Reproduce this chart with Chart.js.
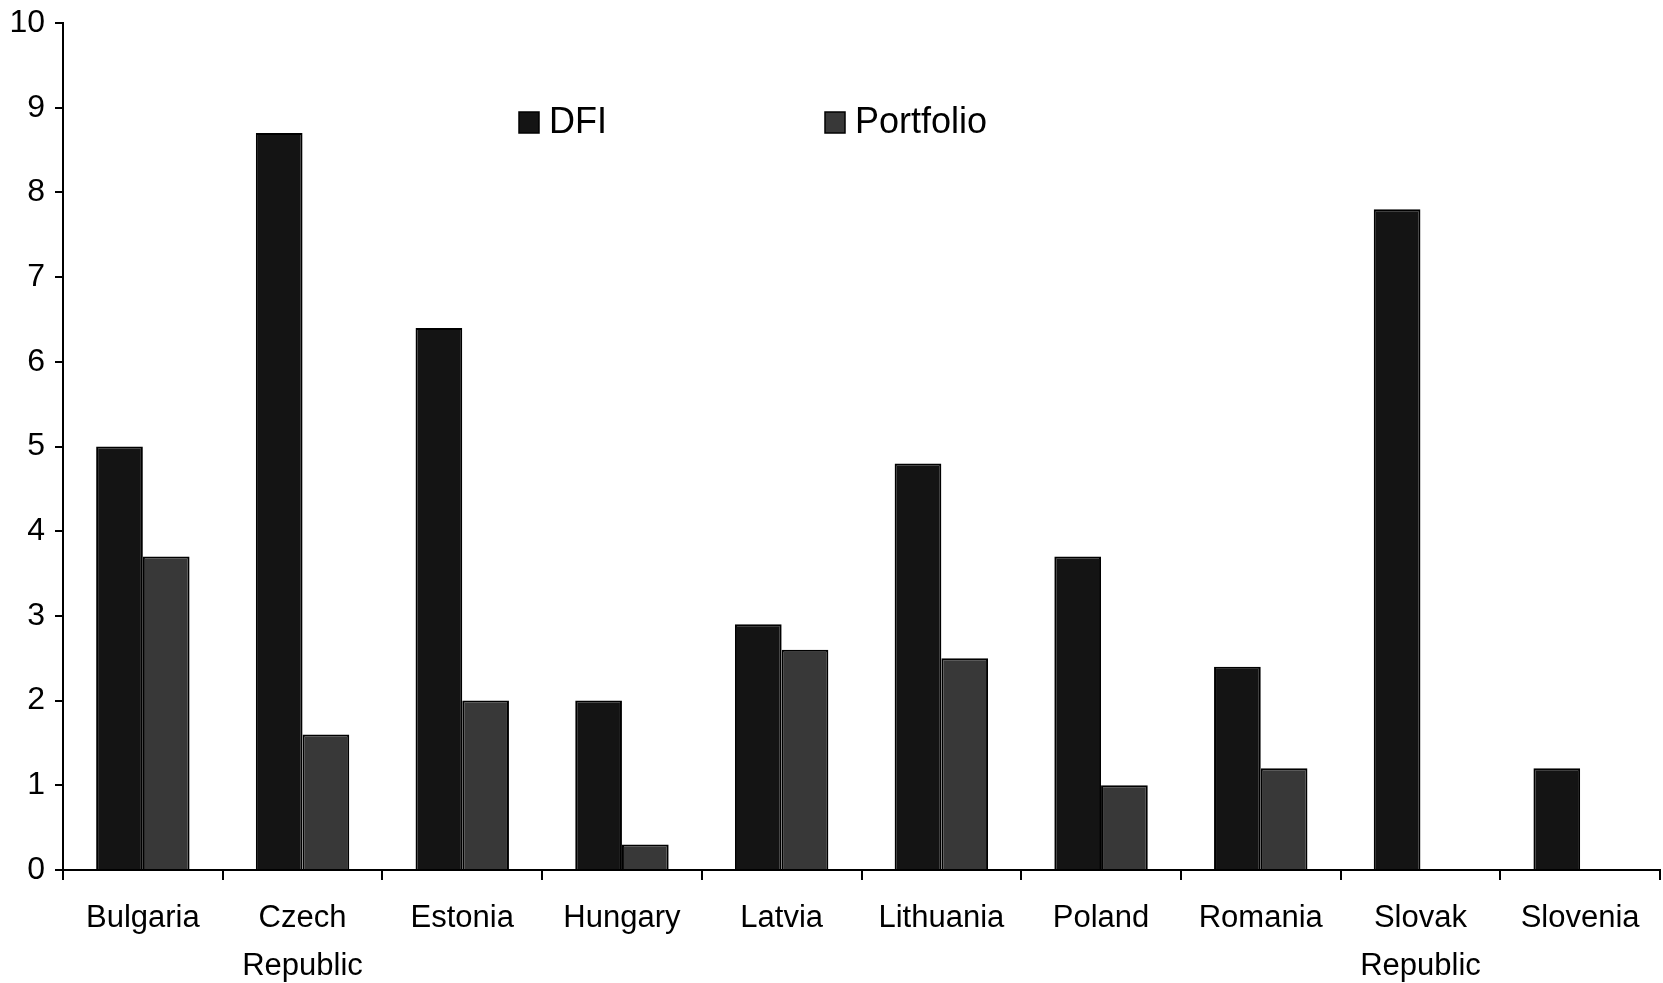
<!DOCTYPE html>
<html>
<head>
<meta charset="utf-8">
<title>DFI and Portfolio</title>
<script src="https://cdn.jsdelivr.net/npm/chart.js@4.4.0/dist/chart.umd.min.js"></script>
<style>
    html, body {
        margin: 0;
        padding: 0;
        background: #ffffff;
    }

    #chartBox {
        position: relative;
        width: 1663px;
        height: 983px;
    }
</style>
</head>
<body>

<div id="chartBox">
    <canvas id="flowChart"></canvas>
</div>

<script>

const countries = [
    "Bulgaria",
    ["Czech", "Republic"],
    "Estonia",
    "Hungary",
    "Latvia",
    "Lithuania",
    "Poland",
    "Romania",
    ["Slovak", "Republic"],
    "Slovenia"
];

const dfiValues = [5.0, 8.7, 6.4, 2.0, 2.9, 4.8, 3.7, 2.4, 7.8, 1.2];
const portfolioValues = [3.7, 1.6, 2.0, 0.3, 2.6, 2.5, 1.0, 1.2, null, null];

const yTicks = [0, 1, 2, 3, 4, 5, 6, 7, 8, 9, 10];

const fontFamily = "'Liberation Sans Narrow', 'Arial Narrow', 'Liberation Sans', Arial, sans-serif";

// legend drawn inside the plot area, one entry per dataset
const insideLegend = {

    id: "insideLegend",

    afterDraw(chart) {

        const ctx = chart.ctx;
        const positions = [519, 825];

        ctx.save();
        ctx.font = "36px " + fontFamily;
        ctx.textBaseline = "middle";

        chart.data.datasets.forEach(function (ds, i) {

            const x = positions[i];
            const y = 122;

            ctx.fillStyle = ds.backgroundColor;
            ctx.fillRect(x, y - 10, 20, 21);
            ctx.strokeStyle = "#000000";
            ctx.lineWidth = 1.5;
            ctx.strokeRect(x, y - 10, 20, 21);

            ctx.fillStyle = "#000000";
            ctx.fillText(ds.label, x + 30, y + 1);

        });

        ctx.restore();

    }

};

function drawChart() {

    const ctx = document.getElementById("flowChart").getContext("2d");

    new Chart(ctx, {

        type: "bar",

        data: {

            labels: countries,

            datasets: [
                {
                    label: "DFI",
                    data: dfiValues,
                    backgroundColor: "#141414",
                    borderColor: "#000000",
                    borderWidth: 2
                },
                {
                    label: "Portfolio",
                    data: portfolioValues,
                    backgroundColor: "#383838",
                    borderColor: "#000000",
                    borderWidth: 2
                }
            ]

        },

        options: {

            responsive: true,
            maintainAspectRatio: false,
            animation: false,

            layout: {
                padding: { top: 23, right: 3, left: 0, bottom: 0 }
            },

            datasets: {
                bar: {
                    barPercentage: 1.0,
                    categoryPercentage: 0.585
                }
            },

            plugins: {
                legend: { display: false },
                tooltip: { enabled: false }
            },

            scales: {

                x: {
                    offset: true,
                    grid: {
                        offset: true,
                        drawOnChartArea: false,
                        drawTicks: true,
                        tickLength: 10,
                        color: "#000000",
                        lineWidth: 2
                    },
                    border: {
                        display: true,
                        color: "#000000",
                        width: 2
                    },
                    ticks: {
                        color: "#000000",
                        maxRotation: 0,
                        autoSkip: false,
                        padding: 14,
                        font: { family: fontFamily, size: 31, lineHeight: 1.55 }
                    },
                    afterFit(scale) {
                        scale.height = 113;
                    }
                },

                y: {
                    min: 0,
                    max: 10,
                    afterBuildTicks(scale) {
                        scale.ticks = yTicks.map(function (v) {
                            return { value: v };
                        });
                    },
                    grid: {
                        drawOnChartArea: false,
                        drawTicks: true,
                        tickLength: 8,
                        color: "#000000",
                        lineWidth: 2
                    },
                    border: {
                        display: true,
                        color: "#000000",
                        width: 2
                    },
                    ticks: {
                        color: "#000000",
                        padding: 10,
                        font: { family: fontFamily, size: 32, lineHeight: 0.8 }
                    },
                    afterFit(scale) {
                        scale.width = 63;
                    }
                }

            }

        },

        plugins: [insideLegend]

    });

}

drawChart();

</script>
</body>
</html>
